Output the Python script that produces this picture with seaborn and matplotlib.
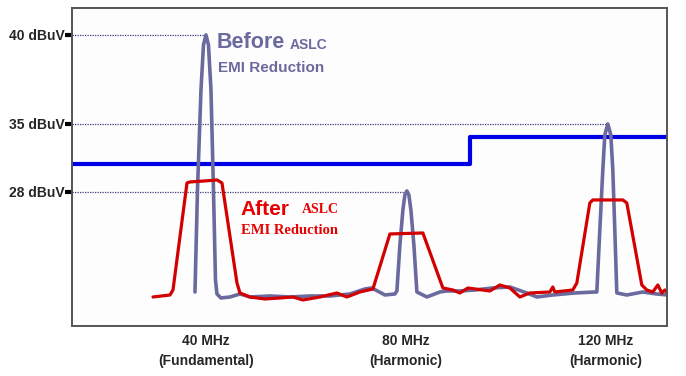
import pandas as pd
import matplotlib
matplotlib.use("Agg")
import matplotlib.pyplot as plt
import seaborn as sns

# =========================
# Data (x in MHz, y in display level units of the schematic)
# =========================
before_x = [37.8, 38.3, 39.0, 39.5, 40.0, 40.5, 41.0, 41.5, 41.9, 42.2, 43.0, 44.8,
            46.8, 48.8, 52.8, 56.8, 60.8, 64.8, 68.8, 71.8, 73.2, 75.8, 77.8,
            78.2, 78.8, 79.4, 79.8, 80.2, 80.6, 81.0, 81.6, 82.2, 84.2, 86.8, 88.2,
            90.8, 93.8, 97.4, 100.8, 104.2, 106.2, 109.4, 113.8, 117.8,
            118.2, 118.8, 119.4, 119.8, 120.4, 121.0, 121.4, 121.8, 122.2, 124.2,
            127.4, 130.2, 132.4]
before_y = [34, 136, 236, 281, 291, 281, 236, 136, 46, 32, 28, 29,
            32, 29, 30, 29, 30, 30, 32, 37, 38, 31, 32,
            35, 81, 116, 131, 135, 131, 116, 81, 34, 29, 34, 35,
            35, 36, 38, 39, 33, 29, 31, 33, 34,
            34, 96, 156, 191, 202, 191, 156, 96, 33, 31,
            34, 32, 31]

after_x = [29.4, 32.8, 33.4, 36.2, 36.8, 39.8, 42.2, 43.2, 46.2, 46.8, 48.8, 51.8,
           54.8, 57.4, 59.4, 62.8, 66.2, 68.2, 70.8, 73.4, 76.8, 83.4, 87.4, 89.4,
           90.8, 92.4, 96.8, 98.8, 100.8, 102.8, 104.8, 108.8, 109.4, 109.8, 113.4,
           114.2, 116.8, 117.4, 123.4, 124.2, 127.2, 128.2, 129.4, 130.4, 131.2,
           131.8, 132.4]
after_y = [29, 31, 36, 143, 144, 145, 146, 143, 43, 33, 29, 27,
           28, 29, 26, 29, 33, 29, 34, 37, 92, 93, 38, 36,
           33, 38, 35, 41, 38, 29, 33, 34, 39, 34, 36,
           43, 123, 126, 126, 123, 41, 36, 34, 41, 33,
           36, 33]

limit_x = [13.2, 92.8, 132.2]
limit_y = [162, 189, 189]

ref_levels = [291, 202, 134]
ref_ends = [40.0, 120.2, 80.2]
ref_labels = ["40 dBuV", "35 dBuV", "28 dBuV"]

freq_ticks = [40, 80, 120]
freq_labels = ["40 MHz\n(Fundamental)", "80 MHz\n(Harmonic)", "120 MHz\n(Harmonic)"]

PURPLE = "#6a6a9e"
RED = "#d20000"
BLUE = "#0000e6"

before = pd.DataFrame({"freq": before_x, "level": before_y})
after = pd.DataFrame({"freq": after_x, "level": after_y})
limit = pd.DataFrame({"freq": limit_x, "level": limit_y})

sns.set_style("white")
plt.rcParams["font.family"] = ["Liberation Sans", "DejaVu Sans"]

fig = plt.figure(figsize=(6.86, 3.76), dpi=100)
ax = fig.add_axes([0.105, 0.133, 0.867, 0.846])

# dotted reference lines
ax.hlines(ref_levels, 13.2, ref_ends, colors="#3a3a7a", linestyles=(0, (1, 1)), linewidth=0.9)

sns.lineplot(data=limit, x="freq", y="level", ax=ax, color=BLUE, linewidth=3,
             drawstyle="steps-post", estimator=None)
sns.lineplot(data=before, x="freq", y="level", ax=ax, color=PURPLE, linewidth=2.6,
             estimator=None, sort=False)
sns.lineplot(data=after, x="freq", y="level", ax=ax, color=RED, linewidth=2.3,
             estimator=None, sort=False)

ax.set_xlim(13.2, 132.2)
ax.set_ylim(0, 318)
ax.set_xlabel("")
ax.set_ylabel("")

ax.set_yticks(ref_levels)
ax.set_yticklabels(ref_labels, fontsize=10, fontweight="bold")
ax.tick_params(axis="y", direction="out", length=5, width=3, color="black", pad=0, left=True)
ax.set_xticks(freq_ticks)
ax.set_xticklabels(freq_labels, fontsize=10, fontweight="bold", linespacing=1.5)
ax.tick_params(axis="x", length=0, pad=6)

for side in ["left", "bottom", "top", "right"]:
    ax.spines[side].set_visible(True)
    ax.spines[side].set_color("#555555")
    ax.spines[side].set_linewidth(1.4)
ax.set_facecolor("#fdfdfe")

# annotations
ax.text(42.2, 283, "Before", color=PURPLE, fontsize=15.5, fontweight="bold", va="center")
ax.text(56.8, 281, "ASLC", color=PURPLE, fontsize=10, fontweight="bold", va="center")
ax.text(42.4, 258, "EMI Reduction", color=PURPLE, fontsize=11, fontweight="bold", va="center")

ax.text(47.0, 116, "After", color="#e60000", fontsize=15, fontweight="bold", va="center")
ax.text(59.2, 116, "ASLC", color="#e60000", fontsize=10, fontweight="bold", va="center",
        family="Liberation Serif")
ax.text(47.0, 95, "EMI Reduction", color="#e60000", fontsize=10.5, fontweight="bold",
        va="center", family="Liberation Serif")

fig.savefig("out.png", dpi=100)
